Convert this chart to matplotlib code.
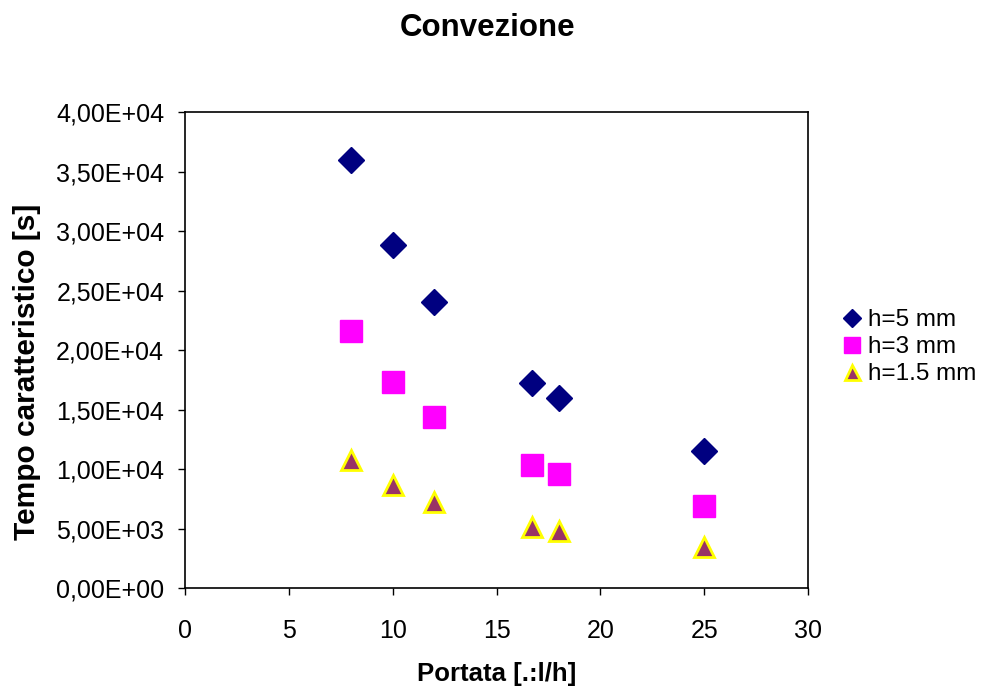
import matplotlib
matplotlib.use("Agg")
import matplotlib.pyplot as plt
from matplotlib.ticker import FuncFormatter, MultipleLocator

plt.rcParams['font.family'] = ['Liberation Sans', 'DejaVu Sans']

# Flow rate [l/h]
portata = [8, 10, 12, 16.7, 18, 25]
# Characteristic time [s] for each channel height
tempo_h5 = [36000, 28800, 24000, 17200, 16000, 11500]
tempo_h3 = [21600, 17300, 14400, 10300, 9600, 6900]
tempo_h15 = [10800, 8640, 7200, 5160, 4800, 3450]
labels = ["h=5 mm", "h=3 mm", "h=1.5 mm"]

fig = plt.figure(figsize=(9.81, 6.88), dpi=100)
ax = fig.add_axes([0.1886, 0.1453, 0.6351, 0.6919])

ax.plot(portata, tempo_h5, linestyle='none', marker='D', markersize=13,
        color='#000080', markeredgecolor='#000080', label=labels[0])
ax.plot(portata, tempo_h3, linestyle='none', marker='s', markersize=16.5,
        color='#FF00FF', markeredgecolor='#FF00FF', label=labels[1])
ax.plot(portata, tempo_h15, linestyle='none', marker='^', markersize=15,
        color='#993366', markeredgecolor='#FFFF00', markeredgewidth=2,
        label=labels[2])

ax.set_xlim(0, 30)
ax.set_ylim(0, 40000)
ax.xaxis.set_major_locator(MultipleLocator(5))
ax.yaxis.set_major_locator(MultipleLocator(5000))


def sci_comma(v, pos):
    m, e = f"{v:.2E}".split("E")
    return f"{m.replace('.', ',')}E{e}"


ax.yaxis.set_major_formatter(FuncFormatter(sci_comma))
ax.tick_params(axis='both', direction='out', length=5, width=1,
               labelsize=18, colors='black')
ax.tick_params(axis='y', pad=10)
ax.tick_params(axis='x', pad=17)
for s in ax.spines.values():
    s.set_color('black')
    s.set_linewidth(1.2)

ax.set_xlabel("Portata [.:l/h]", fontsize=18.5, fontweight='bold', labelpad=14)
ax.set_ylabel("Tempo caratteristico [s]", fontsize=21.5, fontweight='bold',
              labelpad=11)
ax.yaxis.label.set_y(0.454)
fig.text(0.4975, 0.959, "Convezione", ha='center', va='center',
         fontsize=22.5, fontweight='bold')

leg = ax.legend(loc='center left', bbox_to_anchor=(1.022, 0.506), frameon=False,
                fontsize=17.5, handlelength=0.7, handletextpad=0.3,
                labelspacing=0.2, borderaxespad=0.5, markerscale=0.72)

fig.savefig("out.png", dpi=100)
